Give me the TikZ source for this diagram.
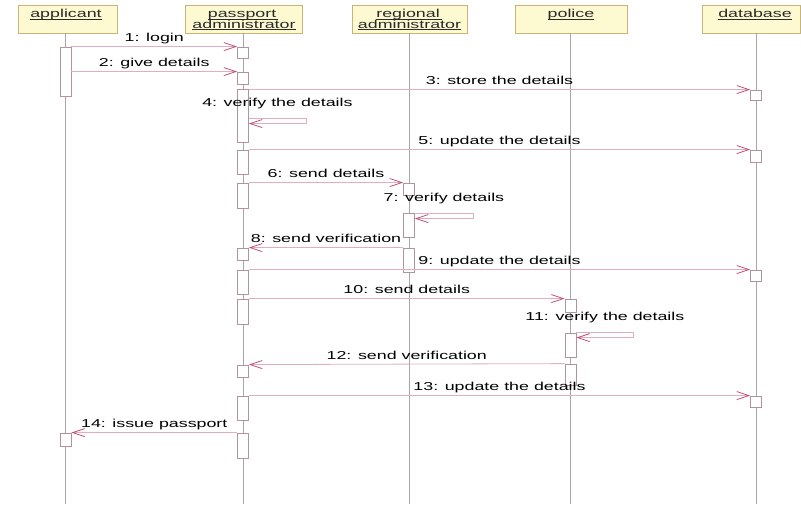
\documentclass[tikz,border=0pt]{standalone}
\usepackage{fontspec}
\setmainfont[FakeStretch=1.55]{Liberation Sans}
\usetikzlibrary{arrows.meta,calc}

\definecolor{hdrfill}{HTML}{FDFAD2}
\definecolor{hdrdraw}{HTML}{C8B478}
\definecolor{hdrtext}{HTML}{2A2A2A}
\definecolor{lifec}{HTML}{A8A8A8}
\definecolor{actc}{HTML}{B0949C}
\definecolor{msgc}{HTML}{E0B0C0}
\definecolor{arrc}{HTML}{C0507A}

\newsavebox\ulbox
% underline that runs through the descenders, as in the object headers
\newcommand\hdrul[1]{\sbox\ulbox{#1}\rlap{\rule[-1.7pt]{\wd\ulbox}{0.6pt}}\usebox\ulbox}
% activation bar: name, lifeline x, top y, bottom y
\newcommand\actbar[4]{\node[actbox, minimum height={(#4-#3)*1pt}] (#1) at (#2,{(#3+#4)/2}) {};}

\begin{document}
\begin{tikzpicture}[x=1pt,y=-1pt,
  hdr/.style={draw=hdrdraw, fill=hdrfill, line width=0.8pt, minimum height=28pt, inner sep=0},
  htxt/.style={anchor=base, inner sep=0, text=hdrtext, font=\fontsize{11.5}{13}\selectfont},
  life/.style={draw=lifec, line width=0.8pt},
  actbox/.style={draw=actc, fill=white, line width=0.8pt, minimum width=11pt, inner sep=0},
  msg/.style={draw=msgc, line width=0.8pt,
    -{Straight Barb[length=12pt,width=8pt,color=arrc,line width=0.8pt]}},
  lbl/.style={anchor=base, inner sep=0, yshift=5pt, text=black, font=\fontsize{11.5}{13}\selectfont},
  selflbl/.style={lbl, yshift=7pt}]

\useasboundingbox (0,0) rectangle (801,504);
\fill[white] (0,0) rectangle (801,504);

% object headers
\node[hdr, minimum width=99pt] (hA)  at (68,19)    {};
\node[hdr, minimum width=117pt] (hP) at (243.5,19) {};
\node[hdr, minimum width=115pt] (hR) at (409.5,19) {};
\node[hdr, minimum width=112pt] (hPo) at (571,19)  {};
\node[hdr, minimum width=98pt] (hD)  at (751,19)   {};

\node[htxt] (tA)  at (66,17.5)  {\hdrul{applicant}};
\node[htxt] (tP1) at (243,17.5) {\hdrul{passport\,}};
\node[htxt] (tP2) at (244,28)   {\hdrul{administrator}};
\node[htxt] (tR1) at (409,17.5) {\hdrul{regional\,}};
\node[htxt] (tR2) at (409.5,28) {\hdrul{administrator}};
\node[htxt] (tPo) at (571,17.5) {\hdrul{police}};
\node[htxt] (tD)  at (755,17.5) {\hdrul{database}};

% lifelines
\coordinate (bot) at (0,504);
\coordinate (xA) at (65.5,0);
\coordinate (xP) at (243,0);
\coordinate (xR) at (409,0);
\coordinate (xPo) at (570.5,0);
\coordinate (xD) at (756,0);
\draw[life] (hA.south -| xA) -- (bot -| xA);
\draw[life] (hP.south -| xP) -- (bot -| xP);
\draw[life] (hR.south -| xR) -- (bot -| xR);
\draw[life] (hPo.south -| xPo) -- (bot -| xPo);
\draw[life] (hD.south -| xD) -- (bot -| xD);

% activation bars
\actbar{aA1}{65.5}{47}{96}
\actbar{aA2}{65.5}{433}{446}

\actbar{aP1}{243}{47}{58}
\actbar{aP2}{243}{72}{84}
\actbar{aP3}{243}{89}{142}
\actbar{aP4}{243}{150}{174}
\actbar{aP5}{243}{183}{208}
\actbar{aP6}{243}{248}{260}
\actbar{aP7}{243}{270}{294}
\actbar{aP8}{243}{299}{324}
\actbar{aP9}{243}{365}{377}
\actbar{aP10}{243}{396}{420}
\actbar{aP11}{243}{433}{458}

\actbar{aR1}{409}{183}{195}
\actbar{aR2}{409}{213}{237}
\actbar{aR3}{409}{248}{272}

\actbar{aPo1}{570.5}{299}{312}
\actbar{aPo2}{570.5}{333}{357}
\actbar{aPo3}{570.5}{364}{385}

\actbar{aD1}{756}{90}{100}
\actbar{aD2}{756}{150}{162}
\actbar{aD3}{756}{270}{281}
\actbar{aD4}{756}{396}{407}

% messages
\draw[msg] (aA1.east |- aP1.north) -- node[lbl] (m1) {1: login} (aP1.north west);
\draw[msg] (aA1.east |- aP2.north) -- node[lbl] (m2) {2: give details} (aP2.north west);
\draw[msg] (aP3.east |- aD1.north) -- node[lbl] (m3) {3: store the details} (aD1.north west);
\draw[msg] ($(aP3.north east)+(0,30)$) -- node[selflbl] (m4) {4: verify the details} ++(57,0) -- ++(0,5) -- ++(-57,0);
\draw[msg] (aP4.north east) -- node[lbl] (m5) {5: update the details} (aD2.north west);
\draw[msg] (aP5.north east) -- node[lbl] (m6) {6: send details} (aR1.north west);
\draw[msg] ($(aR2.north east)+(0,1)$) -- node[selflbl] (m7) {7: verify details} ++(58,0) -- ++(0,5) -- ++(-58,0);
\draw[msg] (aR3.north west) -- node[lbl] (m8) {8: send verification} (aP6.north east);
\draw[msg] (aP7.north east) -- node[lbl] (m9) {9: update the details} (aD3.north west);
\draw[msg] (aP8.north east) -- node[lbl] (m10) {10: send details} (aPo1.north west);
\draw[msg] (aPo2.north east) -- node[selflbl] (m11) {11: verify the details} ++(57,0) -- ++(0,5) -- ++(-57,0);
\draw[msg] (aPo3.north west) -- node[lbl] (m12) {12: send verification} (aP9.north east);
\draw[msg] (aP10.north east) -- node[lbl] (m13) {13: update the details} (aD4.north west);
\draw[msg] (aP11.north west) -- node[lbl] (m14) {14: issue passport} (aA2.north east);
\end{tikzpicture}
\end{document}
